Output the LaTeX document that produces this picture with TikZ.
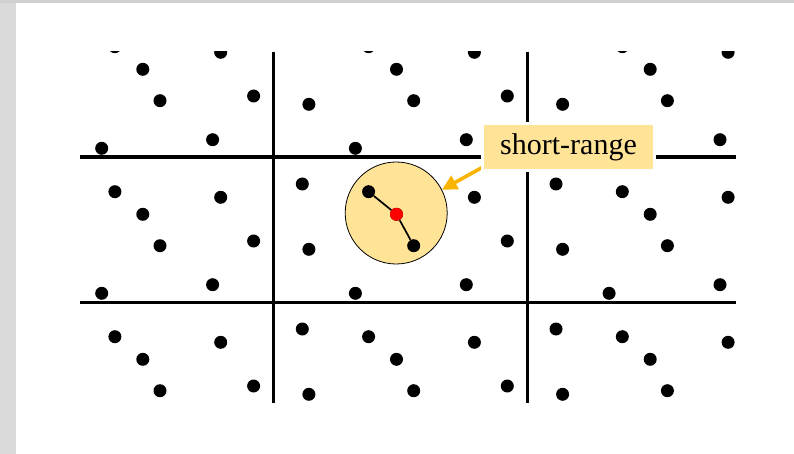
\documentclass[tikz,border=0pt]{standalone}
\usepackage{fontspec}
\setmainfont{Liberation Serif}
\usetikzlibrary{arrows.meta}
\definecolor{pale}{HTML}{FFE498}
\definecolor{amber}{HTML}{F8B400}
\definecolor{leftgray}{HTML}{DADADA}
\definecolor{topgray}{HTML}{D0D0D0}
\pgfdeclarelayer{top}
\pgfsetlayers{main,top}
\begin{document}
\begin{tikzpicture}[x=1pt,y=-1pt,
  dot/.style={circle,fill=black,inner sep=0pt,minimum size=13pt},
  reddot/.style={dot,fill=red},
  gridline/.style={line width=3.6pt},
  bond/.style={line width=1.7pt},
  zonestyle/.style={circle,draw=black,line width=0.8pt,fill=pale,minimum size=102pt,inner sep=0pt},
  labelbox/.style={fill=pale,preaction={draw=white,line width=6pt},minimum width=169pt,minimum height=43.4pt,inner sep=0pt,font=\fontsize{30}{35}\selectfont},
  pointer/.style={amber,line width=3.6pt,-{Triangle[length=15pt,width=15pt]}}]
\useasboundingbox (0,0) rectangle (794,454);
\fill[leftgray] (0,0) rectangle (16,454);
\fill[topgray] (0,0) rectangle (794,3.3);
% grid
\coordinate (h1w) at (79.5,157.3);
\coordinate (h1e) at (735.5,157.3);
\coordinate (h2w) at (79.5,302.6);
\coordinate (h2e) at (735.5,302.6);
\coordinate (v1n) at (273.4,51.7);
\coordinate (v1s) at (273.4,403);
\coordinate (v2n) at (527.6,51.7);
\coordinate (v2s) at (527.6,403);
\draw[gridline] (h1w) -- (h1e);
\draw[gridline] (h2w) -- (h2e);
\draw[gridline] (v1n) -- (v1s);
\draw[gridline] (v2n) -- (v2s);
% cutoff sphere
\node[zonestyle] (zone) at (396.2,213) {};
% particles and periodic images
\begin{scope}
\clip (78,51.7) rectangle (737,410);
\foreach \p/\x/\y in {a/302.3/184, b/368.6/191.7, r/396.5/214.3, c/413.7/245.7, d/474.4/197.3, e/308.9/249.3, f/507.3/241, g/355.4/293.3, h/466.3/284.7}{
  \foreach \i/\ni in {-1/m,0/o,1/p}{
    \foreach \j/\nj in {-1/m,0/o,1/p}{
      \node[dot] (\p\ni\nj) at (\x+253.7*\i,\y+145*\j) {};
    }
  }
}
\end{scope}
\draw[bond] (roo) -- (boo);
\draw[bond] (roo) -- (coo);
\node[reddot] (centre) at (roo) {};
% label
\begin{pgfonlayer}{top}
\node[labelbox] (lbl) at (568.5,147) {short-range};
\end{pgfonlayer}
\draw[pointer] ([shift={(-1.5,-1.5)}]lbl.south west) -- (zone.27);
\end{tikzpicture}
\end{document}
